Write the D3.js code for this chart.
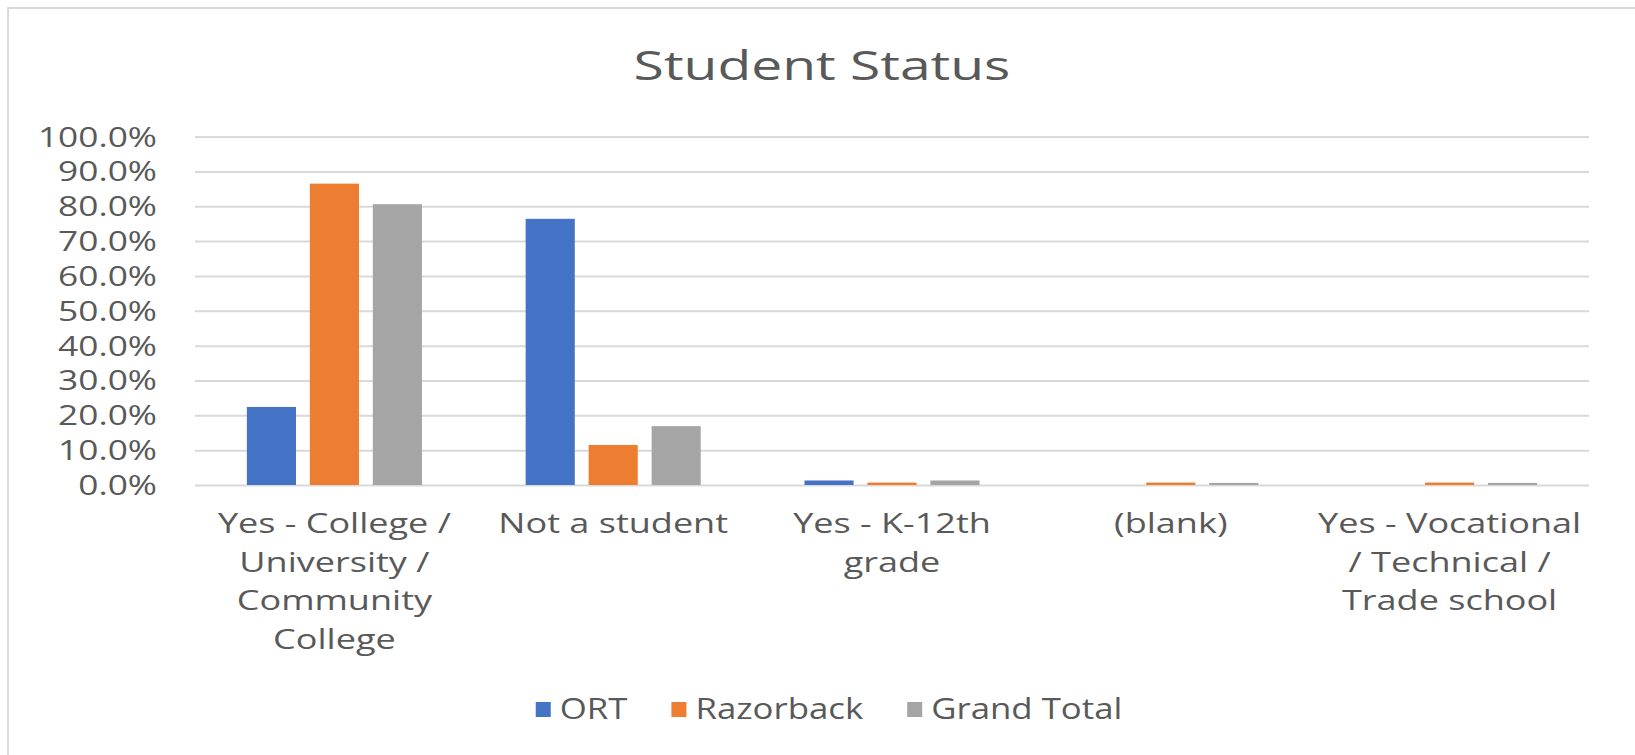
<!DOCTYPE html>
<html>
<head>
<meta charset="utf-8">
<script src="https://cdn.jsdelivr.net/npm/d3@7"></script>
<style>
  body { margin: 0; background: #fff; }
  text { font-family: "Open Sans", sans-serif; fill: #595959; }
</style>
</head>
<body>
<script>
/**
  Clustered column chart "Student Status" (share per group)
*/

// categories, one array of wrapped lines per category
var categories = ["College", "Not a student", "K-12", "(blank)", "Vocational"];
var categoryLines = [
  ["Yes - College /", "University /", "Community", "College"],
  ["Not a student"],
  ["Yes - K-12th", "grade"],
  ["(blank)"],
  ["Yes - Vocational", "/ Technical /", "Trade school"]
];
var seriesNames = ["ORT", "Razorback", "Grand Total"];
var seriesColors = ["#4472C4", "#ED7D31", "#A5A5A5"];

// values in percent, same order as categories
var ortValues = [22.4, 76.4, 1.3, 0, 0];
var razorbackValues = [86.5, 11.5, 0.7, 0.7, 0.7];
var totalValues = [80.6, 16.9, 1.3, 0.6, 0.6];

var yTicks = [0, 10, 20, 30, 40, 50, 60, 70, 80, 90, 100];

window.onload = function() {
  makeChart();
};

/**
  puts a text at x,y stretched sideways by sx (the picture is a bit wide)
*/
function wideText(parent, x, y, str, size, sx, anchor) {
  return parent.append("text")
    .attr("transform", "translate(" + x + "," + y + ") scale(" + sx + ",1)")
    .attr("text-anchor", anchor)
    .style("font-size", size + "px")
    .text(str);
}

function makeChart() {
  var width = 1635, height = 755;
  var plot = {left: 195, right: 1589, top: 136.6, bottom: 485};

  var svg = d3.select("body").append("svg")
      .attr("width", width)
      .attr("height", height);

  // chart frame, runs off the right and bottom edges
  svg.append("rect")
      .attr("x", 8).attr("y", 8)
      .attr("width", 1650).attr("height", 780)
      .attr("fill", "#fff")
      .attr("stroke", "#d9d9d9")
      .attr("stroke-width", 2);

  var data = categories.map(function(c, i) {
    return {cat: c, values: [ortValues[i], razorbackValues[i], totalValues[i]]};
  });

  var x0 = d3.scaleBand()
      .domain(categories)
      .range([plot.left, plot.right])
      .paddingInner(0.372)
      .paddingOuter(0.186);

  var x1 = d3.scaleBand()
      .domain(seriesNames)
      .range([0, x0.bandwidth()])
      .paddingInner(0.22);

  var y = d3.scaleLinear().domain([0, 100]).range([plot.bottom, plot.top]);

  // gridlines
  var yAxis = d3.axisLeft(y)
      .tickValues(yTicks)
      .tickSize(-(plot.right - plot.left))
      .tickFormat("");
  var grid = svg.append("g")
      .attr("transform", "translate(" + plot.left + ",0)")
      .call(yAxis);
  grid.select(".domain").remove();
  grid.selectAll("line").attr("stroke", "#d9d9d9").attr("stroke-width", 2);

  // y tick labels
  yTicks.forEach(function(t) {
    wideText(svg, 157, y(t) + 10, t.toFixed(1) + "%", 28, 1.26, "end");
  });

  // bars
  var groups = svg.selectAll(".group")
      .data(data)
      .enter().append("g")
      .attr("class", "group")
      .attr("transform", function(d) { return "translate(" + x0(d.cat) + ",0)"; });

  groups.selectAll("rect")
      .data(function(d) { return d.values.map(function(v, k) { return {s: seriesNames[k], v: v, k: k}; }); })
      .enter().append("rect")
      .attr("x", function(d) { return x1(d.s); })
      .attr("width", x1.bandwidth())
      .attr("y", function(d) { return y(d.v); })
      .attr("height", function(d) { return y(0) - y(d.v); })
      .attr("fill", function(d) { return seriesColors[d.k]; });

  // category labels
  categories.forEach(function(c, i) {
    var cx = x0(c) + x0.bandwidth() / 2;
    categoryLines[i].forEach(function(line, j) {
      wideText(svg, cx, 533 + j * 38.6, line, 26.5, 1.36, "middle");
    });
  });

  // title
  wideText(svg, 822, 80, "Student Status", 40, 1.38, "middle");

  // legend, centred under the chart
  var legend = svg.append("g");
  var lx = 0;
  seriesNames.forEach(function(name, k) {
    legend.append("rect")
        .attr("x", lx).attr("y", -7)
        .attr("width", 15).attr("height", 15)
        .attr("fill", seriesColors[k]);
    var t = wideText(legend, lx + 24, 10, name, 29, 1.2, "start");
    lx += 24 + t.node().getComputedTextLength() * 1.2 + 44;
  });
  lx -= 44;
  legend.attr("transform", "translate(" + (829 - lx / 2) + ",709)");
}
</script>
</body>
</html>
